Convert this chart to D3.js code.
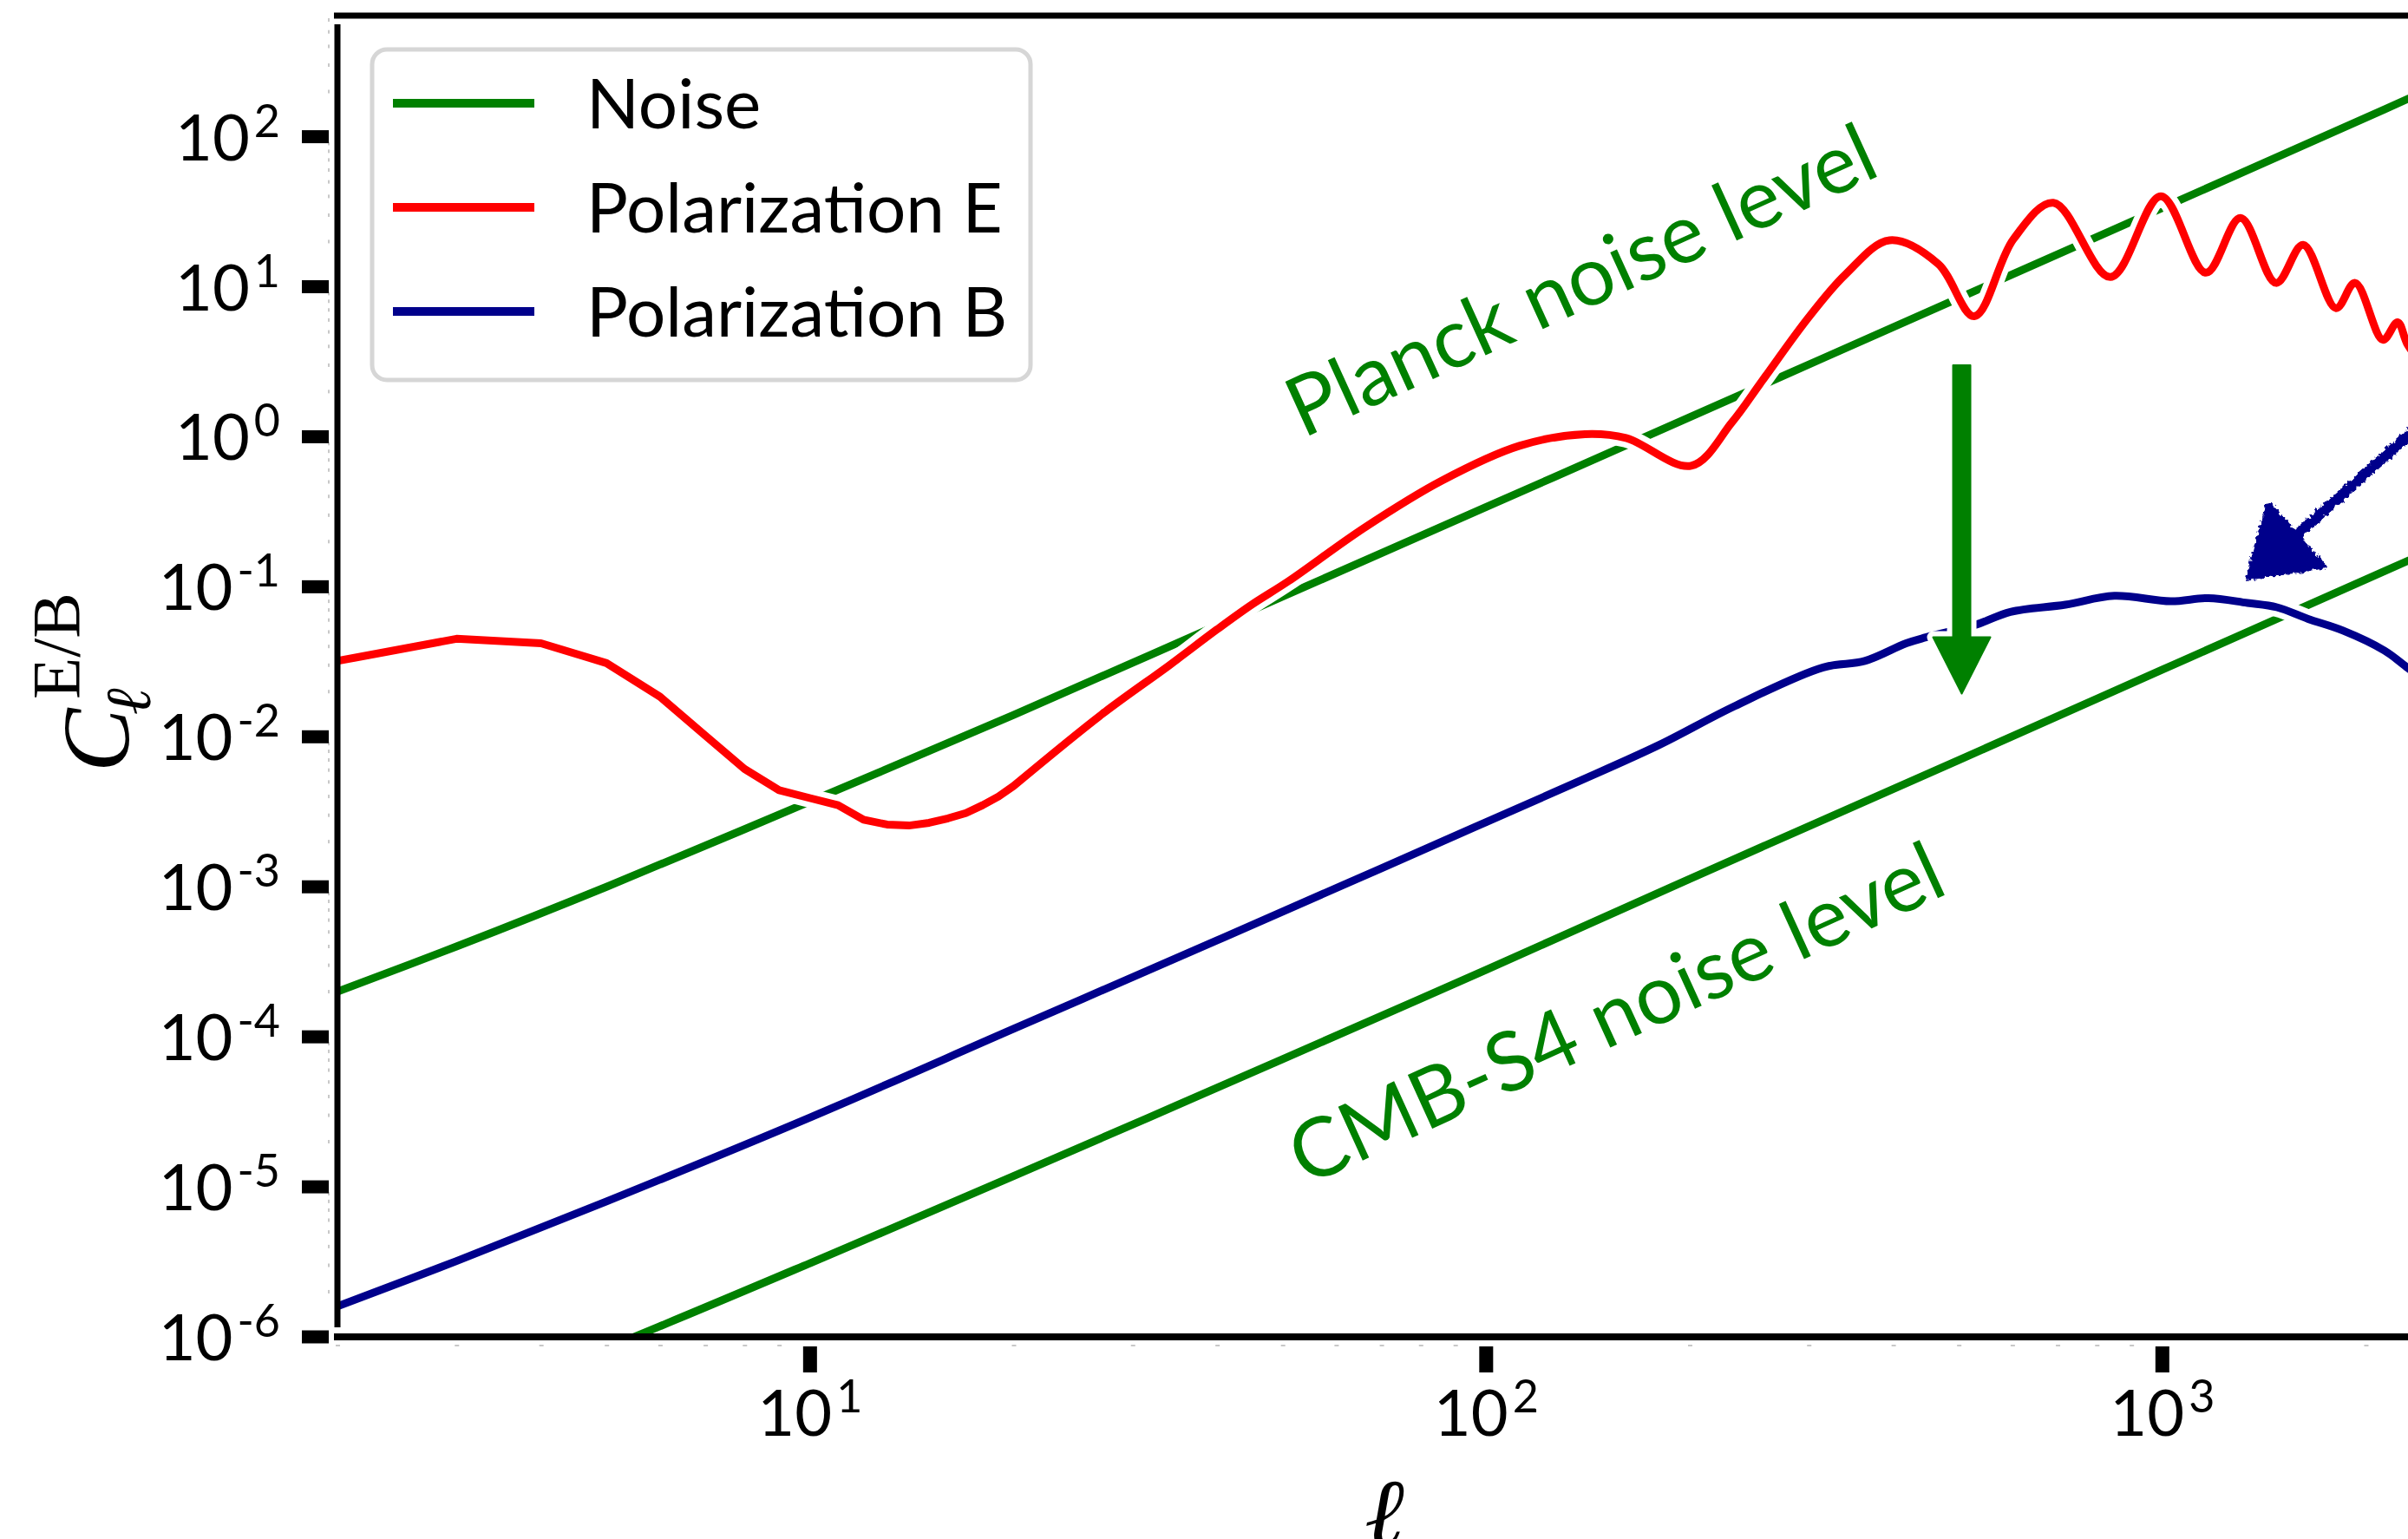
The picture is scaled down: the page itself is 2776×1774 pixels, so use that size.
<!DOCTYPE html>
<html>
<head>
<meta charset="utf-8">
<script src="https://cdn.jsdelivr.net/npm/d3@7"></script>
<style>
  html, body { margin: 0; padding: 0; background: #fff; overflow: hidden; }
  svg { display: block; }
</style>
</head>
<body>
<svg id="chart" width="2776" height="1774"></svg>
<script>
// Multipoles at which the noise curves are sampled
const noiseEll = [2, 3, 5, 10, 20, 50, 100, 200, 500, 1000, 2000, 2500];
// Planck polarization noise level
const planckNoise = [2.0e-4, 4.0e-4, 1.0e-3, 3.7e-3, 1.4e-2, 8.6e-2, 0.34, 1.35, 8.4, 33.5, 134, 210];
// CMB-S4 polarization noise level
const s4Noise = [1.7e-7, 3.4e-7, 8.4e-7, 3.1e-6, 1.18e-5, 7.1e-5, 2.8e-4, 1.13e-3, 7.0e-3, 2.8e-2, 0.112, 0.175];

// E-mode polarization spectrum
const eEll = [2, 3, 4, 5, 6, 7, 8, 9, 10, 11, 12, 13, 14, 15, 16, 17, 18, 19, 20, 27, 34, 40, 45, 51, 66, 86, 112, 140, 161, 201, 231, 256, 299, 340, 395, 466, 527, 602, 690, 838, 995, 1160, 1305, 1473, 1615, 1806, 1928, 2119, 2228, 2308, 2500];
const eVal = [0.032, 0.045, 0.042, 0.031, 0.0185, 0.0102, 0.0061, 0.0044, 0.0039, 0.0035, 0.0028, 0.0026, 0.00256, 0.00267, 0.00286, 0.0031, 0.0035, 0.0040, 0.0047, 0.0141, 0.030, 0.052, 0.076, 0.109, 0.247, 0.51, 0.87, 1.04, 0.98, 0.64, 1.25, 2.36, 6.15, 12.1, 20.4, 14.2, 6.36, 20.7, 36.3, 11.6, 40.1, 12.4, 28.7, 10.6, 19.0, 7.2, 10.6, 4.43, 5.79, 4.07, 2.6];

// B-mode polarization spectrum
const bEll = [2, 3, 5, 10, 20, 40, 70, 100, 135, 180, 233, 315, 363, 418, 447, 531, 596, 719, 849, 1029, 1170, 1336, 1477, 1643, 1850, 2131, 2308, 2500];
const bVal = [1.6e-6, 3.2e-6, 8.0e-6, 2.9e-5, 1.13e-4, 4.4e-4, 1.33e-3, 2.7e-3, 4.9e-3, 8.8e-3, 1.6e-2, 2.9e-2, 3.2e-2, 4.2e-2, 4.6e-2, 5.6e-2, 6.8e-2, 7.6e-2, 8.7e-2, 8.0e-2, 8.4e-2, 7.8e-2, 7.3e-2, 6.1e-2, 5.1e-2, 3.75e-2, 2.87e-2, 2.2e-2];

// Axis ticks (decade exponents)
const xTickExps = [1, 2, 3];
const yTickExps = [-6, -5, -4, -3, -2, -1, 0, 1, 2];

// Legend entries
const legendNames = ["Noise", "Polarization E", "Polarization B"];
const legendColors = ["#008000", "#ff0000", "#00008b"];

// Annotations
const planckLabel = { text: "Planck noise level", ell: 143.7, value: 7.4 };
const s4Label = { text: "CMB-S4 noise level", ell: 162, value: 9.6e-5 };
const improveArrow = { ell: 505, from: 3.0, to: 0.0194 };
const lensArrow = { fromEll: 2870, fromValue: 2.42, toEll: 1340, toValue: 0.115 };

const W = 2776, H = 1774;
const svg = d3.select("#chart");
const FONT = "Lato, 'Open Sans', 'Noto Sans', sans-serif";
const SERIF = "'Liberation Serif', 'DejaVu Serif', serif";

const x = d3.scaleLog().domain([2, 2500]).range([389, 2803]);
const y = d3.scaleLog().domain([1e-6, 650]).range([1541, 17]);

const defs = svg.append("defs");
defs.append("clipPath").attr("id", "plotClip")
  .append("rect")
  .attr("x", x.range()[0]).attr("y", y.range()[1])
  .attr("width", x.range()[1] - x.range()[0])
  .attr("height", y.range()[0] - y.range()[1]);

// hand-drawn roughness for the sketched arrow
const rough = defs.append("filter").attr("id", "rough")
  .attr("x", "-20%").attr("y", "-20%").attr("width", "140%").attr("height", "140%");
rough.append("feTurbulence").attr("type", "fractalNoise").attr("baseFrequency", 0.22)
  .attr("numOctaves", 2).attr("seed", 3).attr("result", "noise");
rough.append("feDisplacementMap").attr("in", "SourceGraphic").attr("in2", "noise")
  .attr("scale", 8).attr("xChannelSelector", "R").attr("yChannelSelector", "G");

// integer-multipole segments are drawn straight, the rest smoothly
const straight = d3.line().x(d => x(d[0])).y(d => y(d[1])).curve(d3.curveLinear);
const smooth = d3.line().x(d => x(d[0])).y(d => y(d[1])).curve(d3.curveCatmullRom.alpha(0.5));

const plot = svg.append("g").attr("clip-path", "url(#plotClip)");

function drawSeries(ells, vals, color, splitEll) {
  const pts = ells.map((l, i) => [l, vals[i]]);
  const low = pts.filter(p => p[0] <= splitEll);
  const high = pts.filter(p => p[0] >= splitEll);
  let d = "";
  if (low.length > 1) d += straight(low);
  if (high.length > 1) d += (d ? smooth(high).replace(/^M[^CLc]*/, m => "L" + m.slice(1)) : smooth(high));
  plot.append("path").attr("d", d).attr("fill", "none")
    .attr("stroke", "#fff").attr("stroke-width", 22)
    .attr("stroke-linejoin", "round").attr("stroke-linecap", "butt");
  plot.append("path").attr("d", d).attr("fill", "none")
    .attr("stroke", color).attr("stroke-width", 9)
    .attr("stroke-linejoin", "round").attr("stroke-linecap", "butt");
}

drawSeries(noiseEll, planckNoise, legendColors[0], 0);
drawSeries(noiseEll, s4Noise, legendColors[0], 0);
drawSeries(eEll, eVal, legendColors[1], 20);
drawSeries(bEll, bVal, legendColors[2], 0);

// Improvement arrow: Planck -> CMB-S4
{
  const ax = x(improveArrow.ell), y0 = y(improveArrow.from), y1 = y(improveArrow.to);
  const sw = 10, hw = 33, hl = 65;
  const pts = [[ax - sw, y0], [ax + sw, y0], [ax + sw, y1 - hl], [ax + hw, y1 - hl],
               [ax, y1], [ax - hw, y1 - hl], [ax - sw, y1 - hl]];
  svg.append("polygon").attr("points", pts.map(p => p.join(",")).join(" "))
    .attr("fill", "#008000").attr("stroke", "#fff").attr("stroke-width", 14)
    .attr("stroke-linejoin", "round").attr("paint-order", "stroke");
  svg.append("polygon").attr("points", pts.map(p => p.join(",")).join(" "))
    .attr("fill", "#008000").attr("stroke", "#008000").attr("stroke-width", 2)
    .attr("stroke-linejoin", "round");
}

// Sketched arrow pointing at the B-mode curve
{
  const tx = x(lensArrow.toEll), ty = y(lensArrow.toValue);
  const fx = x(lensArrow.fromEll), fy = y(lensArrow.fromValue);
  const dx = fx - tx, dy = fy - ty, len = Math.hypot(dx, dy);
  const ux = dx / len, uy = dy / len, px = -uy, py = ux;
  const hl = 74, hw = 48;
  const bx = tx + ux * hl, by = ty + uy * hl;
  const g = svg.append("g").attr("filter", "url(#rough)");
  g.append("line").attr("x1", fx).attr("y1", fy).attr("x2", bx - ux * 4).attr("y2", by - uy * 4)
    .attr("stroke", "#00008b").attr("stroke-width", 12).attr("stroke-linecap", "round");
  g.append("polygon")
    .attr("points", [[tx, ty], [bx + px * hw, by + py * hw], [bx - px * hw, by - py * hw]]
      .map(p => p.join(",")).join(" "))
    .attr("fill", "#00008b").attr("stroke", "#00008b").attr("stroke-width", 6)
    .attr("stroke-linejoin", "round");
}

// Annotation labels, rotated along the noise lines
[planckLabel, s4Label].forEach(lab => {
  svg.append("text")
    .attr("transform", `translate(${x(lab.ell)},${y(lab.value)}) rotate(-24.5)`)
    .attr("text-anchor", "middle")
    .attr("font-family", FONT).attr("font-size", 95)
    .attr("fill", "#008000")
    .text(lab.text);
});

// Spines
const xr = x.range(), yr = y.range();
svg.append("line").attr("x1", xr[0] - 4).attr("x2", W + 10)
  .attr("y1", yr[1] + 1).attr("y2", yr[1] + 1)
  .attr("stroke", "#000").attr("stroke-width", 7);
svg.append("line").attr("x1", xr[0]).attr("x2", xr[0])
  .attr("y1", 28).attr("y2", 1530)
  .attr("stroke", "#000").attr("stroke-width", 7);
svg.append("line").attr("x1", xr[0] - 4).attr("x2", W + 10)
  .attr("y1", yr[0]).attr("y2", yr[0])
  .attr("stroke", "#000").attr("stroke-width", 8);

// Minor ticks (faint)
for (let e = -6; e <= 2; e++) {
  for (let m = 2; m <= 9; m++) {
    const v = m * Math.pow(10, e);
    if (v > y.domain()[1]) continue;
    svg.append("rect").attr("x", xr[0] - 11).attr("y", y(v) - 2)
      .attr("width", 2).attr("height", 4).attr("fill", "#c8c8c8");
  }
}
for (let e = 0; e <= 3; e++) {
  for (let m = 2; m <= 9; m++) {
    const v = m * Math.pow(10, e);
    if (v < 2 || v > 2500) continue;
    svg.append("rect").attr("x", x(v) - 2).attr("y", yr[0] + 9)
      .attr("width", 5).attr("height", 2).attr("fill", "#c8c8c8");
  }
}

// Y axis major ticks and labels
yTickExps.forEach(e => {
  const ty = y(Math.pow(10, e));
  svg.append("rect").attr("x", 348).attr("y", ty - 7.5)
    .attr("width", 31).attr("height", 15).attr("fill", "#000");
  const t = svg.append("text")
    .attr("x", 323).attr("y", ty + 27)
    .attr("text-anchor", "end")
    .attr("font-family", FONT).attr("font-size", 74).attr("fill", "#000");
  t.append("tspan").text("10");
  t.append("tspan").attr("dx", 5).attr("dy", -27).attr("font-size", 52).text(String(e));
});

// X axis major ticks and labels
xTickExps.forEach(e => {
  const tx = x(Math.pow(10, e));
  svg.append("rect").attr("x", tx - 8).attr("y", 1552)
    .attr("width", 16).attr("height", 30).attr("fill", "#000");
  const t = svg.append("text")
    .attr("x", tx).attr("y", 1655)
    .attr("text-anchor", "middle")
    .attr("font-family", FONT).attr("font-size", 74).attr("fill", "#000");
  t.append("tspan").text("10");
  t.append("tspan").attr("dx", 5).attr("dy", -27).attr("font-size", 52).text(String(e));
});

// Axis titles
svg.append("text")
  .attr("x", (xr[0] + xr[1]) / 2).attr("y", 1781)
  .attr("text-anchor", "middle")
  .attr("font-family", SERIF).attr("font-style", "italic").attr("font-size", 110)
  .text("ℓ");

const yl = svg.append("g").attr("transform", "translate(148,890) rotate(-90)");
yl.append("text").attr("x", 0).attr("y", 0)
  .attr("font-family", SERIF).attr("font-style", "italic").attr("font-size", 110)
  .text("C");
yl.append("text").attr("x", 66).attr("y", 25)
  .attr("font-family", SERIF).attr("font-style", "italic").attr("font-size", 74)
  .text("ℓ");
yl.append("text").attr("x", 84).attr("y", -57)
  .attr("font-family", SERIF).attr("font-size", 79)
  .text("E/B");

// Legend
const lg = svg.append("g");
lg.append("rect").attr("x", 429).attr("y", 57).attr("width", 759).attr("height", 381)
  .attr("rx", 17).attr("ry", 17)
  .attr("fill", "#fff").attr("stroke", "#d6d6d6").attr("stroke-width", 5);
legendNames.forEach((name, i) => {
  const ly = 119 + i * 120;
  lg.append("line").attr("x1", 453).attr("x2", 616).attr("y1", ly).attr("y2", ly)
    .attr("stroke", legendColors[i]).attr("stroke-width", 10);
  lg.append("text").attr("x", 676).attr("y", ly + 29)
    .attr("font-family", FONT).attr("font-size", 80).attr("fill", "#000")
    .text(name);
});
</script>
</body>
</html>
